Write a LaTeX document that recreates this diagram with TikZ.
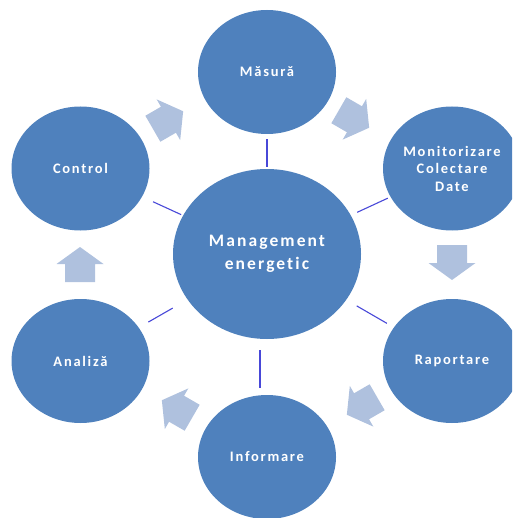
\documentclass[tikz,border=0pt]{standalone}
\usepackage{fontspec}
\setmainfont{Carlito}[LetterSpace=12, Ligatures={NoCommon}]
\usetikzlibrary{shapes.geometric}
\definecolor{nodeblue}{HTML}{4F81BD}
\definecolor{arrowblue}{HTML}{AFC1DE}
\definecolor{linkblue}{RGB}{72,72,216}
\tikzset{
  bubble/.style={ellipse, fill=nodeblue, draw=none, minimum width=138pt, minimum height=124pt,
    inner sep=0pt, text=white, align=center, font=\bfseries\fontsize{14.5}{17.5}\selectfont},
  hub/.style={bubble, minimum width=188pt, minimum height=170pt, font=\bfseries\fontsize{17.5}{23}\selectfont},
  link/.style={draw=linkblue, line width=1.1pt},
  flow/.style={fill=arrowblue, draw=none},
  flowarrow/.pic={\fill[flow] (-17.5,-15) -- (0.5,-15) -- (0.5,-23.5) -- (17.5,0) -- (0.5,23.5) -- (0.5,15) -- (-17.5,15) -- cycle;}
}
\begin{document}
\begin{tikzpicture}[x=1pt,y=-1pt]
\useasboundingbox (0,0) rectangle (512,518);
\clip (0,0) rectangle (512,518);
% nodes
\node[hub] (hub) at (267,254) {Management\\energetic};
\node[bubble] (masura) at (267,72) {Măsură};
\node[bubble] (monit) at (452,168.5) {Monitorizare\\Colectare\\Date};
\node[bubble] (raport) at (452,361) {Raportare};
\node[bubble] (info) at (267,457) {Informare};
\node[bubble] (analiza) at (80.5,361) {Analiză};
\node[bubble] (control) at (80.5,168.5) {Control};
% spokes
\draw[link, shorten <=5pt, shorten >=2pt] (masura) -- (hub);
\draw[link, shorten <=12pt, shorten >=2pt] (control) -- (hub);
\draw[link, shorten <=3pt, shorten >=7pt] (monit) -- (hub);
\draw[link, shorten <=8pt, shorten >=12pt] (raport) -- (hub);
\draw[link, shorten <=11pt, shorten >=17pt] (analiza) -- (hub);
\draw[link, shorten <=7pt, shorten >=11pt] ([xshift=-7pt]info.north) -- ([xshift=-7pt]hub.south);
% cycle arrows
\pic[rotate=30] at (168,120) {flowarrow};
\pic[rotate=-30] at (354,119) {flowarrow};
\pic[rotate=-90] at (452,262.5) {flowarrow};
\pic[rotate=210] at (362,406) {flowarrow};
\pic[rotate=150] at (177,409) {flowarrow};
\pic[rotate=90] at (80,264.5) {flowarrow};
\end{tikzpicture}
\end{document}
